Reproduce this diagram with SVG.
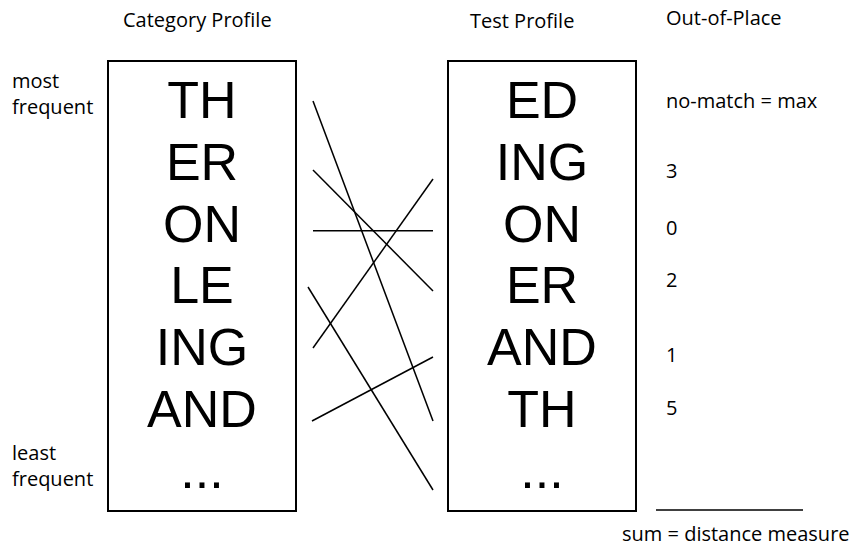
<svg xmlns="http://www.w3.org/2000/svg" width="852" height="554" viewBox="0 0 852 554">
  <style>
    .lbl { font-family: "Open Sans", "Liberation Sans", sans-serif; font-size: 20px; fill: #000; }
    .gram { font-family: "Liberation Sans", Arial, sans-serif; font-size: 52px; fill: #000; text-anchor: middle; }
    .box { fill: #fff; stroke: #000; stroke-width: 2; }
    .link { stroke: #000; stroke-width: 1.5; fill: none; }
  </style>
  <rect width="852" height="554" fill="#fff"/>

  <!-- column headings -->
  <text class="lbl" x="123" y="27">Category Profile</text>
  <text class="lbl" x="470" y="28">Test Profile</text>
  <text class="lbl" x="666" y="25">Out-of-Place</text>

  <!-- frequency axis labels -->
  <text class="lbl" x="12" y="88">most</text>
  <text class="lbl" x="12" y="114">frequent</text>
  <text class="lbl" x="12" y="460">least</text>
  <text class="lbl" x="12" y="486">frequent</text>

  <!-- category profile -->
  <g id="category-profile">
    <rect class="box" x="108" y="61" width="188" height="450"/>
    <text class="gram" x="202" y="118">TH</text>
    <text class="gram" x="202" y="180">ER</text>
    <text class="gram" x="202" y="241.5">ON</text>
    <text class="gram" x="202" y="303">LE</text>
    <text class="gram" x="202" y="365">ING</text>
    <text class="gram" x="202" y="426.5">AND</text>
    <text class="gram" x="202" y="488">...</text>
  </g>

  <!-- test profile -->
  <g id="test-profile">
    <rect class="box" x="448" y="61" width="188" height="450"/>
    <text class="gram" x="542" y="118">ED</text>
    <text class="gram" x="542" y="180">ING</text>
    <text class="gram" x="542" y="241.5">ON</text>
    <text class="gram" x="542" y="303">ER</text>
    <text class="gram" x="542" y="365">AND</text>
    <text class="gram" x="542" y="426.5">TH</text>
    <text class="gram" x="542" y="488">...</text>
  </g>

  <!-- rank links between profiles -->
  <g id="connectors">
    <line class="link" x1="313" y1="101" x2="433" y2="421"/>
    <line class="link" x1="313" y1="170" x2="433" y2="291"/>
    <line class="link" x1="313" y1="230.7" x2="433" y2="230.7"/>
    <line class="link" x1="433" y1="179" x2="313" y2="348"/>
    <line class="link" x1="308" y1="287" x2="433" y2="490"/>
    <line class="link" x1="312" y1="421" x2="433" y2="357"/>
  </g>

  <!-- out-of-place values -->
  <g id="out-of-place">
    <text class="lbl" x="666" y="108">no-match = max</text>
    <text class="lbl" x="666" y="178">3</text>
    <text class="lbl" x="666" y="235">0</text>
    <text class="lbl" x="666" y="287">2</text>
    <text class="lbl" x="666" y="362">1</text>
    <text class="lbl" x="666" y="415">5</text>
    <line x1="656" y1="510" x2="803" y2="510" stroke="#000" stroke-width="1.5"/>
    <text class="lbl" x="622" y="541">sum = distance measure</text>
  </g>
</svg>
